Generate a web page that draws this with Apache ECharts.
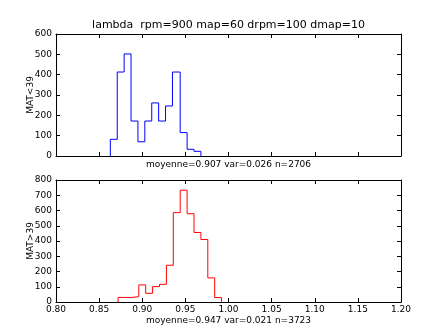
<!DOCTYPE html>
<html>
<head>
<meta charset="utf-8">
<script src="https://cdn.jsdelivr.net/npm/echarts@6/dist/echarts.min.js"></script>
<style>
html,body{margin:0;padding:0;background:#fff;}
#chart{width:445px;height:336px;}
</style>
</head>
<body>
<div id="chart"></div>
<script>
// ---- data ----
var titleText = 'lambda  rpm=900 map=60 drpm=100 dmap=10';
var topEdges = [0.863, 0.871, 0.879, 0.887, 0.895, 0.903, 0.911, 0.919, 0.927, 0.935, 0.944, 0.952, 0.960, 0.968];
var topCounts = [82, 413, 502, 172, 70, 172, 261, 172, 246, 413, 115, 33, 23];
var topYLabel = 'MAT<39';
var topXLabel = 'moyenne=0.907 var=0.026 n=2706';
var topYTicks = [0, 100, 200, 300, 400, 500, 600];

var botEdges = [0.872, 0.880, 0.888, 0.896, 0.904, 0.912, 0.920, 0.928, 0.936, 0.944, 0.952, 0.960, 0.968, 0.976, 0.984, 0.992];
var botCounts = [30, 30, 35, 112, 57, 101, 116, 241, 586, 733, 579, 456, 410, 158, 29];
var botYLabel = 'MAT>39';
var botXLabel = 'moyenne=0.947 var=0.021 n=3723';
var botYTicks = [0, 100, 200, 300, 400, 500, 600, 700, 800];

var xTicks = [0.80, 0.85, 0.90, 0.95, 1.00, 1.05, 1.10, 1.15, 1.20];

// ---- build ----
function stepData(edges, counts) {
  var d = [[edges[0], 0]];
  for (var i = 0; i < counts.length; i++) d.push([edges[i], counts[i]]);
  d.push([edges[edges.length - 1], 0]);
  return d;
}
var FONT = 'DejaVu Sans';
var black = '#000';
function xAx(grid, pos, showLabel, name) {
  return {
    type: 'value', gridIndex: grid, position: pos,
    min: xTicks[0], max: xTicks[xTicks.length - 1], interval: 0.05,
    axisLine: {show: true, onZero: false, lineStyle: {color: black, width: 1}},
    axisTick: {show: true, inside: true, length: 4, lineStyle: {color: black}},
    axisLabel: {show: showLabel, margin: 3, color: black, fontFamily: FONT, fontSize: 9,
      formatter: function (v) { return v.toFixed(2); }},
    splitLine: {show: false},
    name: name || '', nameLocation: 'middle', nameGap: showLabel ? 14 : 4,
    nameMoveOverlap: false,
    nameTextStyle: {color: black, fontFamily: FONT, fontSize: 9}
  };
}
function yAx(grid, pos, ticks, showLabel, name) {
  return {
    type: 'value', gridIndex: grid, position: pos,
    min: ticks[0], max: ticks[ticks.length - 1], interval: 100,
    axisLine: {show: true, onZero: false, lineStyle: {color: black, width: 1}},
    axisTick: {show: true, inside: true, length: 4, lineStyle: {color: black}},
    axisLabel: {show: showLabel, margin: 4, color: black, fontFamily: FONT, fontSize: 9},
    splitLine: {show: false},
    name: name || '', nameLocation: 'middle', nameGap: 21,
    nameMoveOverlap: false,
    nameTextStyle: {color: black, fontFamily: FONT, fontSize: 9}
  };
}

var chart = echarts.init(document.getElementById('chart'), null, {renderer: 'canvas'});
chart.setOption({
  animation: false,
  backgroundColor: '#fff',
  grid: [
    {left: 56, right: 44, top: 34, height: 122},
    {left: 56, right: 44, top: 180, height: 122}
  ],
  xAxis: [
    xAx(0, 'bottom', false, topXLabel),
    xAx(0, 'top', false),
    xAx(1, 'bottom', true, botXLabel),
    xAx(1, 'top', false)
  ],
  yAxis: [
    yAx(0, 'left', topYTicks, true, topYLabel),
    yAx(0, 'right', topYTicks, false),
    yAx(1, 'left', botYTicks, true, botYLabel),
    yAx(1, 'right', botYTicks, false)
  ],
  graphic: [{
    type: 'text', x: 228.5, y: 25,
    style: {text: titleText, textAlign: 'center', textVerticalAlign: 'middle',
      font: '11px "DejaVu Sans"', fill: black}
  }],
  series: [
    {type: 'line', xAxisIndex: 0, yAxisIndex: 0, step: 'end', symbol: 'none',
     lineStyle: {color: '#0000ff', width: 1}, itemStyle: {color: '#0000ff'},
     data: stepData(topEdges, topCounts)},
    {type: 'line', xAxisIndex: 2, yAxisIndex: 2, step: 'end', symbol: 'none',
     lineStyle: {color: '#ff0000', width: 1}, itemStyle: {color: '#ff0000'},
     data: stepData(botEdges, botCounts)}
  ]
});
</script>
</body>
</html>
